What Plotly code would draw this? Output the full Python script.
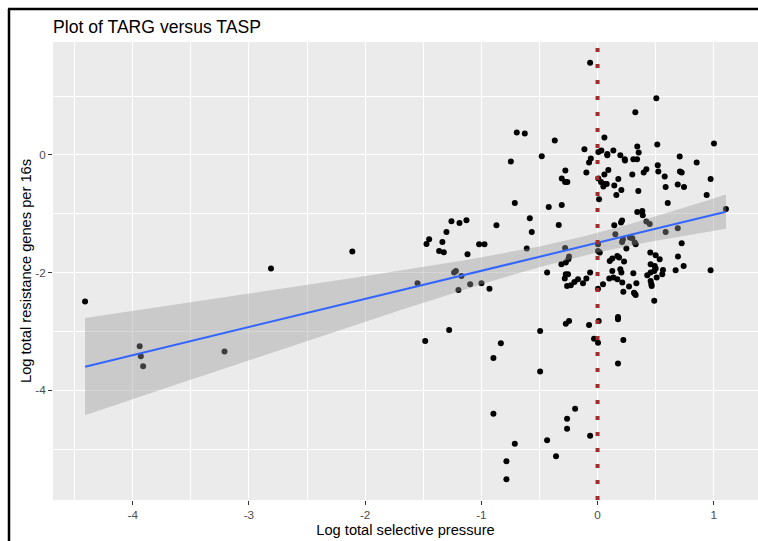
import numpy as np
import plotly.graph_objects as go

# Log total selective pressure (TASP) per sample
tasp = [
    -4.41, -3.94, -3.93, -3.91, -3.21, -2.81, -2.11,
    -1.257, -1.188, -1.128, -1.30, -1.449, -1.472, -1.335, -1.363, -1.323, -1.119,
    -1.019, -0.973, -0.87, -1.549, -1.234, -1.219, -1.171, -1.197, -1.096, -0.999,
    -0.93, -1.277, -1.483,
    -0.695, -0.626, -0.368, -0.746, -0.48, -0.113, -0.058, -0.073, -0.277, -0.308,
    -0.279, -0.26, -0.096, -0.712, -0.42, -0.308, -0.583, -0.566, -0.334, -0.609,
    -0.279, -0.245, -0.251, -0.311, -0.273, -0.434, -0.273, -0.254, -0.282, -0.262,
    -0.23, -0.199, -0.168, -0.125, -0.096, -0.064, -0.064, -0.273, -0.245, -0.073,
    -0.03, -0.494, -0.832, -0.896, -0.494, -0.896, -0.193, -0.262, -0.262, -0.064,
    -0.434, -0.712, -0.357, -0.784, -0.784,
    0.506, 0.325, 0.059, 1.002, 0.007, 0.033, 0.084, 0.084, 0.136, 0.196,
    0.234, 0.236, 0.308, 0.34, 0.342, 0.354, 0.514, 0.518, 0.707, 0.853,
    0.007, 0.03, 0.056, 0.05, 0.059, 0.093, 0.079, 0.144, 0.179, 0.162,
    0.205, 0.299, 0.351, 0.397, 0.42, 0.523, 0.578, 0.586, 0.69, 0.744,
    0.709, 0.724, 0.973, 0.939, 1.105, 0.013, 0.604, 0.342, 0.385, 0.389,
    0.42, 0.449, 0.144, 0.202, 0.211, 0.153, 0.211, 0.219, 0.279, 0.299,
    0.32, 0.328, 0.248, 0.586, 0.69, 0.724, 0.004, 0.004, 0.019, 0.105,
    0.127, 0.17, 0.185, 0.228, 0.127, 0.196, 0.205, 0.101, 0.136, 0.17,
    0.213, 0.047, 0.004, 0.271, 0.222, 0.308, 0.334, 0.32, 0.428, 0.457,
    0.454, 0.5, 0.535, 0.457, 0.492, 0.5, 0.488, 0.457, 0.463, 0.466,
    0.509, 0.563, 0.557, 0.672, 0.692, 0.741, 0.488, 0.973, 0.01, 0.176,
    0.176, 0.222, 0.004, 0.176, 0.314, 0.328,
]

# Log total resistance genes per 16s (TARG) per sample
targ = [
    -2.49, -3.25, -3.42, -3.59, -3.34, -1.93, -1.64,
    -1.128, -1.156, -1.111, -1.31, -1.434, -1.514, -1.48, -1.633, -1.655, -1.689,
    -1.519, -1.519, -1.196, -2.182, -2.0, -1.973, -2.058, -2.296, -2.199, -2.182,
    -2.272, -2.976, -3.163,
    0.381, 0.364, 0.245, -0.112, -0.022, 0.097, -0.061, -0.129, -0.265, -0.401,
    -0.459, -0.459, -0.3, -0.816, -0.884, -0.85, -1.077, -1.31, -1.19, -1.592,
    -1.581, -1.728, -1.774, -1.859, -1.83, -2.0, -2.029, -2.029, -2.102, -2.228,
    -2.216, -2.16, -2.114, -2.182, -2.102, -2.0, 1.565, -2.867, -2.823, -2.891,
    -3.122, -2.993, -3.202, -3.452, -3.679, -4.398, -4.313, -4.483, -4.653, -4.772,
    -4.847, -4.908, -5.119, -5.204, -5.51,
    0.964, 0.726, 0.296, 0.194, 0.051, 0.075, 0.017, -0.005, 0.075, -0.005,
    -0.073, -0.095, -0.073, -0.073, 0.143, 0.041, 0.177, -0.175, -0.027, -0.129,
    -0.401, -0.459, -0.493, -0.537, -0.333, -0.255, -0.493, -0.52, -0.408, -0.68,
    -0.595, -0.333, -0.612, -0.3, -0.243, -0.282, -0.367, -0.544, -0.503, -0.544,
    -0.282, -0.3, -0.408, -0.68, -0.918, -0.753, -0.816, -0.969, -0.952, -1.026,
    -1.133, -1.173, -1.196, -1.15, -1.116, -1.349, -1.48, -1.434, -1.405, -1.417,
    -1.49, -1.519, -1.592, -1.31, -1.247, -1.502, -1.519, -1.633, -1.66, -1.803,
    -1.762, -1.718, -1.745, -1.813, -1.973, -1.944, -2.0, -2.102, -2.085, -2.114,
    -2.17, -2.199, -2.272, -2.238, -2.323, -2.012, -2.182, -2.357, -2.046, -2.0,
    -1.66, -1.706, -1.774, -1.859, -1.888, -1.932, -1.973, -2.143, -2.199, -2.228,
    -2.085, -1.956, -2.029, -1.961, -1.728, -1.888, -2.476, -1.961, -2.823, -2.755,
    -2.794, -3.146, -3.19, -3.543, -2.34, -2.38,
]

x_ticks = [-4, -3, -2, -1, 0, 1]
x_tick_text = ["-4", "-3", "-2", "-1", "0", "1"]
y_ticks = [-4, -2, 0]
y_tick_text = ["-4", "-2", "0"]

FONT = "Arial, Liberation Sans, sans-serif"
W, H = 758, 541
ML, MR, MT, MB = 53, 0, 42, 41

x = np.asarray(tasp, float)
y = np.asarray(targ, float)
n = len(x)

# Linear model fit with a 95% confidence band (as geom_smooth(method = "lm"))
xbar = x.mean()
sxx = ((x - xbar) ** 2).sum()
slope = ((x - xbar) * (y - y.mean())).sum() / sxx
intercept = y.mean() - slope * xbar
resid = y - (intercept + slope * x)
df = n - 2
sigma = np.sqrt((resid ** 2).sum() / df)
z = 1.959964
tq = z + (z ** 3 + z) / (4 * df) + (5 * z ** 5 + 16 * z ** 3 + 3 * z) / (96 * df ** 2)

xs = np.linspace(x.min(), x.max(), 80)
fit = intercept + slope * xs
se = sigma * np.sqrt(1.0 / n + (xs - xbar) ** 2 / sxx)
lo, hi = fit - tq * se, fit + tq * se


def padded(vmin, vmax, frac=0.05):
    r = vmax - vmin
    return [vmin - frac * r, vmax + frac * r]


xr = padded(x.min(), x.max())
yr = padded(min(y.min(), lo.min()), max(y.max(), hi.max()))

fig = go.Figure()

fig.add_trace(go.Scatter(
    x=x, y=y, mode="markers",
    marker=dict(color="black", size=6, line=dict(width=0)),
    hoverinfo="skip", showlegend=False,
))

fig.add_trace(go.Scatter(
    x=np.concatenate([xs, xs[::-1]]),
    y=np.concatenate([hi, lo[::-1]]),
    fill="toself", fillcolor="rgba(153,153,153,0.4)",
    line=dict(width=0), mode="lines",
    hoverinfo="skip", showlegend=False,
))

fig.add_trace(go.Scatter(
    x=xs, y=fit, mode="lines",
    line=dict(color="#3366FF", width=2),
    hoverinfo="skip", showlegend=False,
))

minor_x = [v + 0.5 for v in range(-5, 2)]
minor_y = [v + 1 for v in range(-6, 2, 2)]

axis_common = dict(
    showgrid=True, gridcolor="white", gridwidth=1.1,
    zeroline=False, showline=False,
    ticks="outside", ticklen=4, tickwidth=1.1, tickcolor="#333333",
    tickfont=dict(family=FONT, size=11.7, color="#4D4D4D"),
)

fig.update_layout(
    width=W, height=H,
    margin=dict(l=ML, r=MR, t=MT, b=MB, pad=0),
    paper_bgcolor="white", plot_bgcolor="#EBEBEB",
    font=dict(family=FONT, color="black"),
    title=dict(
        text="Plot of TARG versus TASP",
        x=0, xref="paper", xanchor="left",
        y=1 - 26.5 / H, yref="container", yanchor="middle",
        font=dict(family=FONT, size=17.6, color="black"),
    ),
    xaxis=dict(
        range=xr, tickvals=x_ticks, ticktext=x_tick_text,
        minor=dict(tickvals=minor_x, showgrid=True, gridcolor="white",
                   gridwidth=0.55, ticks=""),
        title=dict(text="Log total selective pressure",
                   font=dict(family=FONT, size=14.67, color="black"),
                   standoff=4),
        **axis_common,
    ),
    yaxis=dict(
        range=yr, tickvals=y_ticks, ticktext=y_tick_text,
        minor=dict(tickvals=minor_y, showgrid=True, gridcolor="white",
                   gridwidth=0.55, ticks=""),
        title=dict(text="Log total resistance genes per 16s",
                   font=dict(family=FONT, size=14.67, color="black"),
                   standoff=0),
        **axis_common,
    ),
    shapes=[
        # dotted reference line at TASP = 0
        dict(type="line", xref="x", yref="paper", x0=0, x1=0, y0=0, y1=1,
             line=dict(color="#A52A2A", width=4, dash="4px,12px"),
             layer="above"),
        # frame around the figure (left and top edges)
        dict(type="line", xref="paper", yref="paper",
             x0=(9 - ML) / (W - ML - MR), x1=(9 - ML) / (W - ML - MR),
             y0=-(MB + 2) / (H - MT - MB), y1=(H - MT - 8 + 0) / (H - MT - MB),
             line=dict(color="black", width=2.5)),
        dict(type="line", xref="paper", yref="paper",
             x0=(8 - ML) / (W - ML - MR), x1=(W + 2 - ML) / (W - ML - MR),
             y0=(H - MB - 9) / (H - MT - MB), y1=(H - MB - 9) / (H - MT - MB),
             line=dict(color="black", width=2.5)),
    ],
)

fig.write_html("out.html")
